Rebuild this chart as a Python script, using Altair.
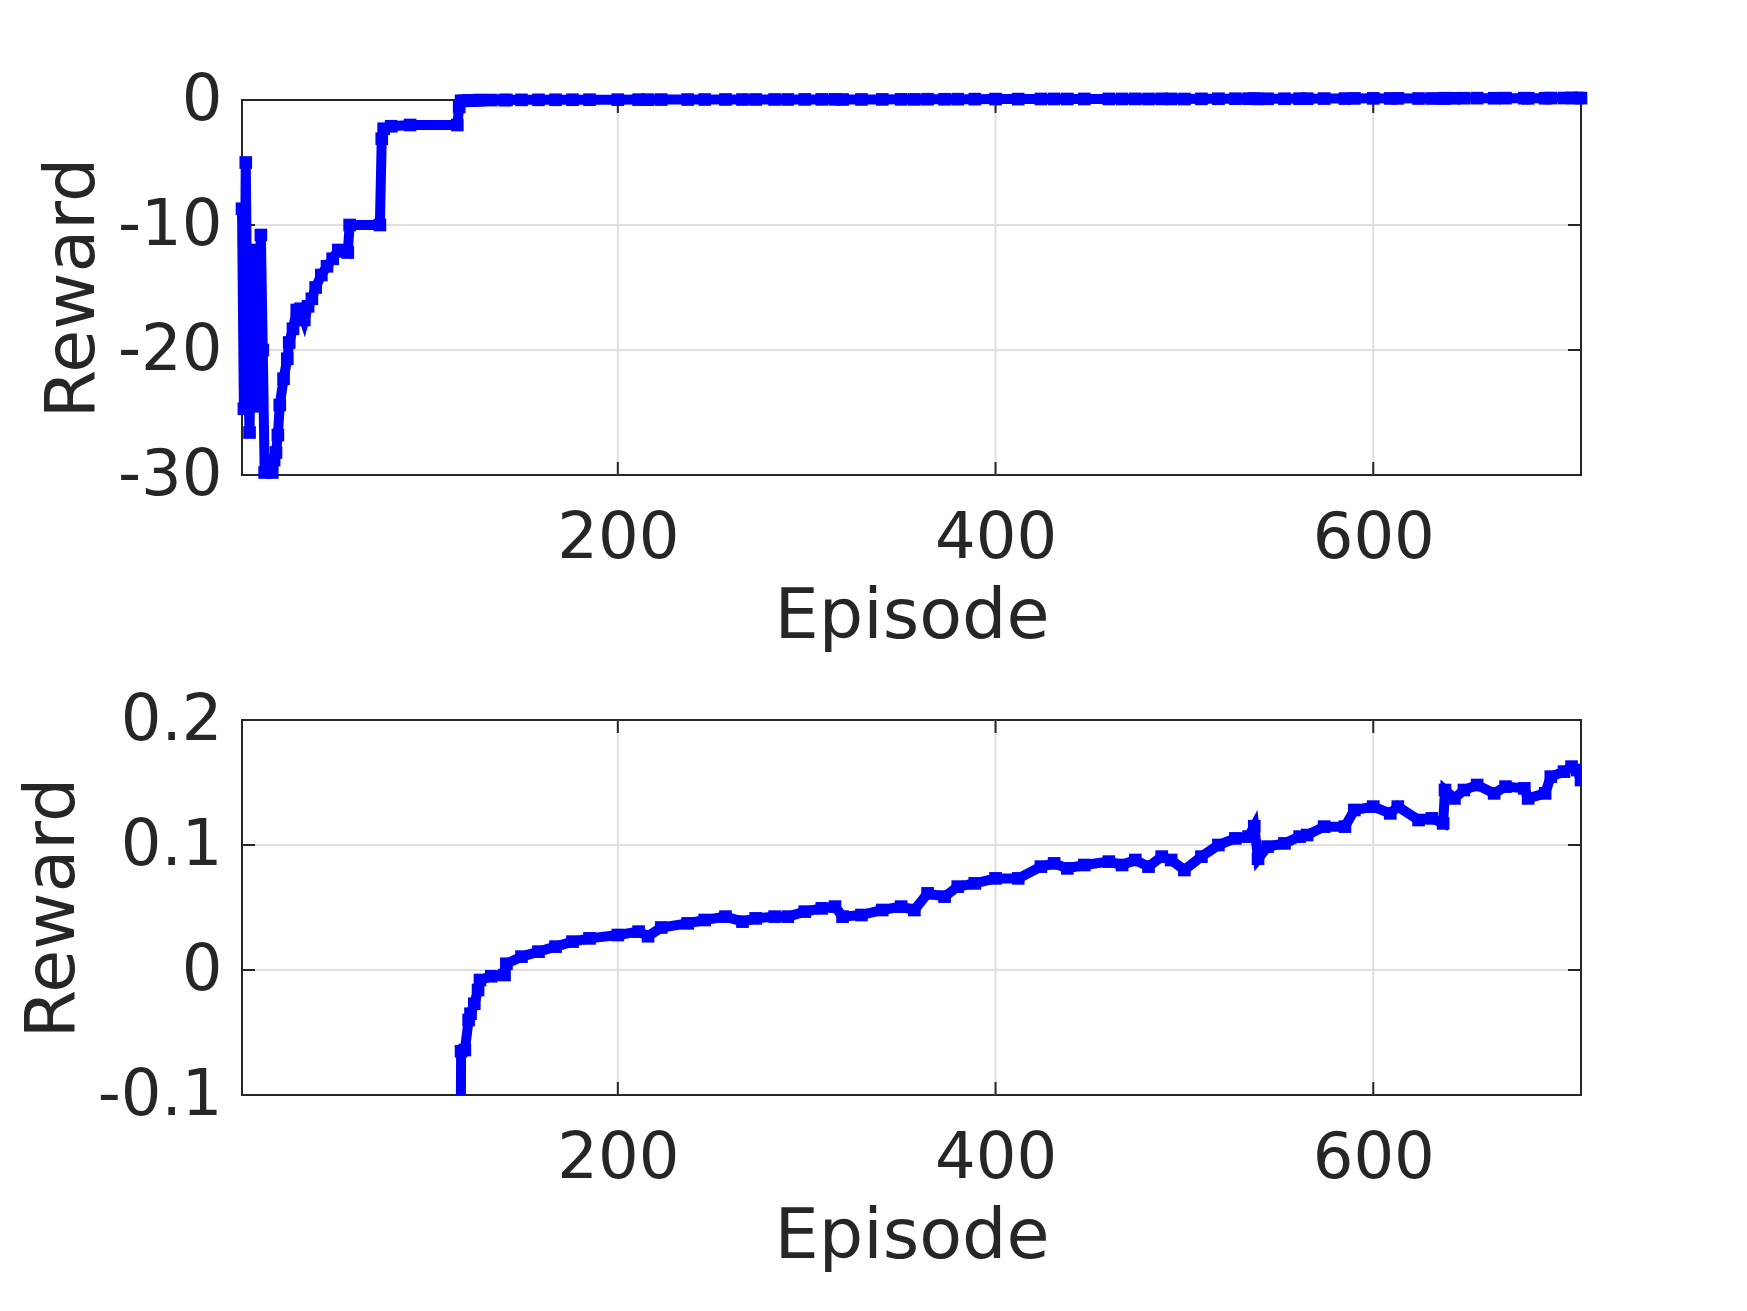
import altair as alt
import pandas as pd

# ---- data ----
episodes = [1, 2, 3, 4, 5, 6, 7, 8, 9, 10, 11, 12, 13, 17, 18, 19, 20, 21, 23, 25,
            26, 28, 30, 32, 34, 36, 38, 40, 43, 46, 49, 52, 55, 57, 58, 74, 75, 76, 80, 90,
            115, 116, 117, 119, 121, 122, 124, 126, 127, 133, 140, 141, 149, 158, 167, 176, 185, 200, 211, 216,
            223, 237, 246, 257, 266, 273, 283, 290, 299, 308, 315, 319, 329, 340, 350, 357, 364, 373, 380, 389,
            400, 412, 424, 431, 438, 447, 460, 467, 474, 481, 488, 493, 500, 509, 518, 527, 534, 537, 539, 544,
            553, 561, 565, 574, 585, 590, 600, 609, 613, 624, 631, 637, 638, 643, 648, 655, 664, 670, 680, 682,
            691, 694, 701, 705, 708, 710]
rewards = [-8.7, -24.7, -5.0, -21.0, -26.6, -12.0, -24.5, -17.0, -22.0, -15.0, -10.8, -20.0, -29.8, -29.8, -28.8, -28.2, -26.8, -24.4, -22.3, -20.7,
           -19.4, -18.3, -16.8, -16.7, -17.6, -16.5, -15.9, -15.0, -14.0, -13.3, -12.7, -12.0, -12.1, -12.2, -10.0, -10.0, -3.1, -2.3, -2.1, -2.0,
           -2.0, -0.56, -0.065, -0.064, -0.040, -0.035, -0.027, -0.016, -0.008, -0.005, -0.004, 0.005, 0.0107, 0.0147, 0.0187, 0.0227, 0.0253, 0.028, 0.0307, 0.027,
           0.034, 0.0373, 0.040, 0.0427, 0.0387, 0.0413, 0.0427, 0.0427, 0.0467, 0.0493, 0.0507, 0.0427, 0.044, 0.048, 0.0507, 0.048, 0.0613, 0.0587, 0.0667, 0.0693,
           0.0733, 0.0733, 0.0827, 0.0853, 0.0813, 0.084, 0.0867, 0.084, 0.088, 0.0827, 0.0907, 0.088, 0.080, 0.0907, 0.100, 0.1053, 0.1067, 0.115, 0.089, 0.0987,
           0.1013, 0.1067, 0.108, 0.1147, 0.1147, 0.128, 0.1307, 0.1253, 0.1307, 0.120, 0.1213, 0.1173, 0.144, 0.1373, 0.144, 0.148, 0.1413, 0.1467, 0.1453, 0.1373,
           0.1413, 0.1547, 0.1587, 0.1627, 0.160, 0.152]

x_domain = [1, 710]
x_ticks = [200, 400, 600]
top_domain = [-30, 0]
top_ticks = [-30, -20, -10, 0]
bottom_domain = [-0.1, 0.2]
bottom_ticks = [-0.1, 0, 0.1, 0.2]

W, H = 1339, 375
TICK = 13
DARK = "#262626"
GRID = "#dfdfdf"
BLUE = "#0000ff"

df = pd.DataFrame({"Episode": episodes, "Reward": rewards})


def panel(y_domain, y_ticks, fmt, clip):
    xs = alt.Scale(domain=x_domain, nice=False, zero=False)
    ys = alt.Scale(domain=y_domain, nice=False, zero=False)
    x_axis = alt.Axis(values=x_ticks, title="Episode", format="d", grid=False, ticks=False,
                      domain=False, labelPadding=31, titlePadding=12)
    label_expr = ("datum.value < 0 ? '-' + format(-datum.value, '%s') : format(datum.value, '%s')"
                  % (fmt, fmt))
    y_axis = alt.Axis(values=y_ticks, title="Reward", grid=False, ticks=False, domain=False,
                      labelPadding=20, titlePadding=9, labelExpr=label_expr)

    xg = pd.DataFrame({"t": x_ticks})
    yg = pd.DataFrame({"v": [v for v in y_ticks if y_domain[0] < v < y_domain[1]]})
    yt = pd.DataFrame({"v": y_ticks})

    def X(f):
        return alt.X(f, scale=xs, axis=x_axis)

    def Y(f):
        return alt.Y(f, scale=ys, axis=y_axis)

    grid_x = alt.Chart(xg).mark_rule(color=GRID, strokeWidth=2).encode(x=X("t:Q"))
    grid_y = alt.Chart(yg).mark_rule(color=GRID, strokeWidth=2).encode(y=Y("v:Q"))

    line = alt.Chart(df).mark_line(color=BLUE, strokeWidth=10, clip=clip).encode(
        x=X("Episode:Q"), y=Y("Reward:Q"))
    pts = alt.Chart(df).mark_point(shape="square", filled=True, size=160, color=BLUE,
                                   opacity=1, clip=clip).encode(
        x=X("Episode:Q"), y=Y("Reward:Q"))

    xt_bottom = alt.Chart(xg).mark_rule(color=DARK, strokeWidth=2).encode(
        x=X("t:Q"), y=alt.value(H), y2=alt.value(H - TICK))
    xt_top = alt.Chart(xg).mark_rule(color=DARK, strokeWidth=2).encode(
        x=X("t:Q"), y=alt.value(0), y2=alt.value(TICK))
    yt_left = alt.Chart(yt).mark_rule(color=DARK, strokeWidth=2).encode(
        y=Y("v:Q"), x=alt.value(0), x2=alt.value(TICK))
    yt_right = alt.Chart(yt).mark_rule(color=DARK, strokeWidth=2).encode(
        y=Y("v:Q"), x=alt.value(W - TICK), x2=alt.value(W))

    return alt.layer(grid_x, grid_y, xt_bottom, xt_top, yt_left, yt_right, line, pts).properties(
        width=W, height=H)


top = panel(top_domain, top_ticks, "d", False)
bottom = panel(bottom_domain, bottom_ticks, ".1~f", True)

chart = alt.vconcat(top, bottom, spacing=35).properties(
    padding={"left": 8, "top": 59, "right": 10, "bottom": 10}
).configure(
    background="white"
).configure_view(
    stroke=DARK, strokeWidth=2
).configure_axis(
    labelFont="DejaVu Sans", titleFont="DejaVu Sans",
    labelFontSize=64, titleFontSize=70,
    labelColor=DARK, titleColor=DARK,
    titleFontWeight="normal"
)

chart.save("out.html", embed_options={"renderer": "svg", "actions": False})
